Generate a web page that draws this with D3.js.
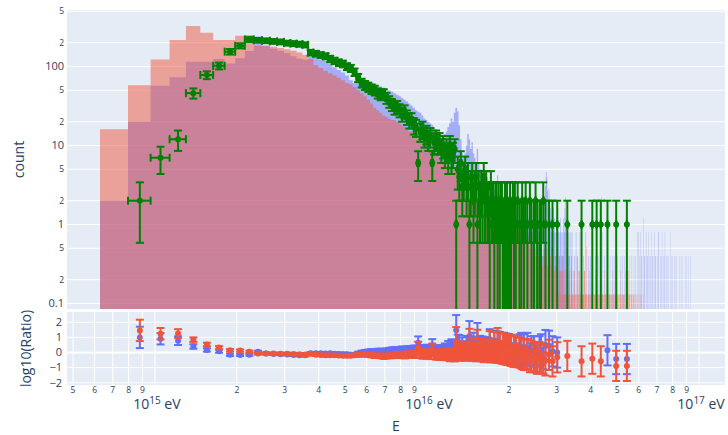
<!DOCTYPE html>
<html lang="en">
<head>
<meta charset="UTF-8">
<title>count / ratio</title>
<style>
  body { margin: 0; background: #fff; }
  svg { display: block; }
  text { font-family: "Open Sans", verdana, arial, sans-serif; fill: #2a3f5f; }
</style>
</head>
<body>
<div id="chart"></div>
<script src="https://cdn.jsdelivr.net/npm/d3@7/dist/d3.min.js"></script>
<script>
// histogram binning (eV)
var binStart = 6.28e14, binWidth = 1.68e14;

// bins 0..119, one value per bin
var redCounts = [
  16, 58, 123, 216, 326, 267, 216, 216, 245, 250,
  183, 182, 178, 172, 165, 158, 150, 140, 124, 104,
  96, 88, 82, 77, 72, 67, 62, 59, 55, 50,
  46, 42, 38, 34, 30, 28, 26, 24, 23, 22,
  21, 21, 20, 19, 18, 17, 16, 15, 15, 14,
  13, 12, 12, 11, 11, 10, 10, 9, 9, 8.5,
  8, 7.5, 7, 7, 6.5, 6, 6, 5.5, 5.5, 5,
  5, 5, 4.8, 4.5, 4.5, 4.3, 4.2, 4, 4, 3.9,
  3.8, 3.7, 3.6, 3.5, 3.5, 3.4, 3.3, 3.2, 3.2, 3.1,
  3, 3, 2.9, 2.8, 2.8, 2.7, 2.6, 2.6, 2.5, 2.5,
  2.4, 2.3, 2.3, 2.2, 4.2, 2.1, 2, 2, 1.9, 1.8,
  1.8, 1.7, 1.6, 1.6, 1.5, 1.5, 1.4, 1.3, 1.3, 1.2
];
var blueCounts = [
  2, 20, 57, 73, 115, 115, 124, 109, 127, 157,
  240, 185, 168, 158, 148, 135, 125, 122, 133, 128,
  123, 118, 110, 98, 90, 84, 77, 67, 62, 62,
  62, 62, 64, 62, 60, 58, 56, 54, 52, 50,
  48, 46, 44, 42, 40, 38, 36, 34, 32, 30,
  28, 27, 26, 24, 22, 21, 20, 19, 18, 17,
  16, 15, 14, 13, 13, 14, 15, 17, 19, 22,
  20, 26, 30, 27, 18, 12, 8, 7, 8, 10,
  14, 12, 9, 11, 8, 7, 6, 9, 6, 5,
  5, 4.5, 4.5, 4, 4.5, 4, 3.5, 3.5, 3, 3.2,
  3, 2.8, 2.7, 2.5, 2.5, 2.3, 2.3, 2.2, 2.1, 2,
  2, 1.9, 1.8, 1.8, 1.7, 1.6, 1.6, 1.5, 1.5, 1.4
];
var dataCounts = [
  0, 2, 7, 12, 46, 78, 102, 154, 183, 220,
  215, 212, 208, 205, 198, 195, 192, 188, 150, 145,
  140, 135, 125, 118, 112, 108, 100, 95, 85, 72,
  62, 58, 55, 52, 50, 46, 44, 45, 40, 36,
  33, 30, 31, 28, 25, 27, 23, 21, 21, 18,
  17, 6, 15, 16, 13, 14, 12, 13, 6, 11,
  12, 11, 11, 9, 10, 8, 9, 7, 10, 7,
  8, 9, 1, 5, 4, 6, 3, 4, 5, 3,
  4, 1, 3, 4, 2, 3, 4, 1, 3, 2,
  3, 2, 4, 2, 3, 2, 2, 1, 3, 2,
  2, 1, 2, 2, 1, 2, 1, 2, 2, 1,
  1, 2, 1, 2, 1, 1, 2, 1, 0, 2
];

// red continues bin by bin from 120 to 369
var redTail = [
  1.2, 1.1, 1.3, 1.0, 1.1, 0.9, 1.0, 0.8, 0.9, 0.8,
  0.9, 0.7, 0.8, 0.7, 0.6, 0.8, 0.7, 0.6, 0.5, 0.7,
  0.6, 0.5, 0.6, 0.5, 0.4, 0.5, 0.6, 0.4, 0.5, 0.4,
  0.5, 0.4, 0.4, 0.5, 0.3, 0.4, 0.5, 0.4, 0.3, 0.4,
  0.5, 0.3, 0.4, 0.7, 0.3, 0.4, 0.3, 0.5, 0.26, 0.4,
  0.3, 0.26, 0.4, 0.3, 0.26, 0.48, 0.26, 0.13, 0.39, 0.26,
  0.26, 0.13, 0.26, 0.26, 0.39, 0.13, 0.13, 0.26, 0.13, 0.13,
  0.26, 0.59, 0.13, 0.13, 0.26, 0.13, 0.13, 0, 0.26, 0.13,
  0.13, 0.13, 0.26, 0.26, 0.13, 0.13, 0, 0.13, 0.39, 0.13,
  0.13, 0.26, 0.26, 0.13, 0.13, 0, 0.26, 0.13, 0.13, 0.13,
  0.13, 0.26, 0.26, 0.13, 0.13, 0.13, 0.52, 0.13, 0, 0.13,
  0.13, 0.26, 0.13, 0.13, 0, 0.13, 0.13, 0.39, 0.13, 0.13,
  0, 0.13, 0.13, 0.13, 0.26, 0.13, 0, 0, 0.13, 0.13,
  0.13, 0, 0.13, 0.13, 0.13, 0.26, 0.13, 0, 0.13, 0.13,
  0.13, 0.13, 0, 0.13, 0.26, 0.13, 0.13, 0.13, 0, 0.13,
  0, 0.13, 0, 0.13, 0.13, 0.13, 0.13, 0, 0.13, 0.13,
  0.13, 0, 0.13, 0.26, 0.13, 0.13, 0, 0.13, 0.13, 0,
  0.13, 0.13, 0.13, 0, 0.13, 0.13, 0, 0.13, 0.13, 0.13,
  0, 0.13, 0.13, 0.26, 0.13, 0, 0.13, 0.13, 0, 0.13,
  0.13, 0.13, 0, 0.13, 0.13, 0.26, 0, 0.13, 0.13, 0.13,
  0.26, 0.26, 0.26, 0.26, 0.13, 0, 0.13, 0.13, 0, 0.13,
  0, 0.13, 0.13, 0, 0, 0.13, 0, 0.13, 0.13, 0,
  0, 0.13, 0, 0, 0.13, 0, 0, 0.13, 0, 0,
  0.13, 0, 0, 0, 0.13, 0, 0, 0, 0.13, 0,
  0, 0, 0.13, 0, 0, 0, 0, 0, 0.13, 0
];
// blue beyond bin 119, [bin, value]
var blueTail = [
  [120,1.2],[121,1.6],[122,1.2],[123,1.6],[124,1.2],[125,0.8],[126,1.6],[127,1.2],[128,2.0],[129,1.2],
  [130,0.8],[131,1.6],[132,1.2],[133,0.8],[134,1.2],[135,2.0],[136,1.2],[137,0.8],[138,1.6],[139,0.8],
  [140,1.2],[141,0.8],[142,1.6],[143,1.2],[144,0.8],[145,1.2],[146,0.8],[147,0.4],[148,1.2],[149,0.8],
  [150,1.2],[151,0.8],[152,1.6],[153,0.8],[154,0.4],[155,0.8],[156,1.2],[157,2.3],[158,3.1],[159,4.6],
  [160,3.9],[161,2.7],[162,1.6],[163,2.8],[164,0.8],[165,1.6],[166,1.2],[167,0.8],[168,1.2],[169,1.6],
  [170,0.8],[171,1.2],[172,0.8],[173,0.4],[174,1.2],[175,1.0],[176,1.6],[177,0.8],[178,0.4],[179,0.8],
  [180,1.2],[181,0.8],[182,0.4],[183,0.8],[184,0.4],[185,1.2],[186,0.8],[187,1.6],[188,2.2],[189,1.2],
  [190,0.8],[192,0.8],[193,0.4],[194,0.8],[195,0.4],[197,0.8],[198,0.4],[199,0.8],[203,0.4],[206,0.8],
  [209,0.4],[213,0.8],[220,0.4],[224,0.8],[229,0.4],[233,0.4],[238,0.8],[243,0.4],[249,0.4],[254,1.2],
  [256,2.2],[258,0.8],[264,0.4],[270,1.4],[276,0.4],[282,0.4],[286,0.4],[291,0.37],[295,0.4],[303,0.4],
  [308,0.4],[312,0.4],[319,0.37],[326,0.4],[333,0.4],[339,0.4],[344,0.4],[349,0.8],[352,0.8],[356,0.4],
  [359,0.8],[361,0.4],[363,0.4],[367,1.2],[370,0.4],[372,0.4],[376,0.8],[379,0.4],[381,0.4],[385,0.8],
  [388,0.4],[390,0.4],[395,0.8],[397,0.4],[399,0.4],[404,0.8],[407,0.4],[409,0.4],[414,0.4],[417,0.8],
  [419,0.8],[425,0.4],[428,0.4],[431,0.8],[436,0.4],[439,0.4],[442,0.8],[448,0.4],[452,0.4],[455,0.4],
  [462,0.8],[466,0.4],[470,0.4],[478,0.4],[484,0.4],[488,0.4],[500,0.4],[507,0.4],[512,0.4],[525,0.4],
  [533,0.4],[540,0.4],[548,0.4]
];
var dataTail = [
  [120,1],[121,2],[122,1],[124,2],[126,1],[128,1],[129,2],[131,1],[133,2],[135,1],
  [138,2],[140,1],[143,1],[145,2],[147,1],[150,1],[152,1],[155,2],[158,1],[163,1],
  [168,1],[175,1],[191,1],[216,1],[237,1],[246,1],[255,1],[270,1],[291,1],[319,1]
];

var xDomain = [4.75e14, 1.246e17];
var yTopDomain = [0.0851, 519];
var yBotDomain = [-2.15, 2.68];
var yTopTicks = [0.1, 0.2, 0.5, 1, 2, 5, 10, 20, 50, 100, 200, 500];
var yBotTicks = [-2, -1, 0, 1, 2];

// build the bins
var nBins = 560;
var bins = [];
for (var k = 0; k < nBins; k++) {
  bins.push({
    k: k,
    lo: binStart + k * binWidth,
    hi: binStart + (k + 1) * binWidth,
    red: k < redCounts.length ? redCounts[k] : (k - 120 < redTail.length ? redTail[k - 120] : 0),
    blue: k < blueCounts.length ? blueCounts[k] : 0,
    data: k < dataCounts.length ? dataCounts[k] : 0
  });
}
blueTail.forEach(function(d) { bins[d[0]].blue = d[1]; });
dataTail.forEach(function(d) { bins[d[0]].data = d[1]; });

var W = 728, H = 435;
var L = 67, R = 725, topT = 10, topB = 309, botT = 312, botB = 385;

var x = d3.scaleLog().domain(xDomain).range([L, R]);
var yTop = d3.scaleLog().domain(yTopDomain).range([topB, topT]);
var yBot = d3.scaleLinear().domain(yBotDomain).range([botB, botT]);

var svg = d3.select("#chart").append("svg").attr("width", W).attr("height", H);
var defs = svg.append("defs");
defs.append("clipPath").attr("id", "clipTop").append("rect")
  .attr("x", L).attr("y", topT).attr("width", R - L).attr("height", topB - topT);
defs.append("clipPath").attr("id", "clipBot").append("rect")
  .attr("x", L).attr("y", botT).attr("width", R - L).attr("height", botB - botT);

svg.append("rect").attr("x", L).attr("y", topT).attr("width", R - L).attr("height", topB - topT).attr("fill", "#E5ECF6");
svg.append("rect").attr("x", L).attr("y", botT).attr("width", R - L).attr("height", botB - botT).attr("fill", "#E5ECF6");

// x ticks (log, every digit)
var xTicks = [];
for (var e = 14; e <= 17; e++) {
  for (var m = 1; m <= 9; m++) {
    var v = m * Math.pow(10, e);
    if (v >= xDomain[0] && v <= xDomain[1]) xTicks.push({ v: v, m: m, e: e });
  }
}

// grids
svg.append("g").selectAll("line").data(yTopTicks).enter().append("line")
  .attr("x1", L).attr("x2", R).attr("y1", function(d) { return yTop(d); }).attr("y2", function(d) { return yTop(d); })
  .attr("stroke", "#fff").attr("stroke-width", 1);
svg.append("g").selectAll("line").data(xTicks).enter().append("line")
  .attr("x1", function(d) { return x(d.v); }).attr("x2", function(d) { return x(d.v); })
  .attr("y1", botT).attr("y2", botB).attr("stroke", "#fff").attr("stroke-width", 1);
svg.append("g").selectAll("line").data(yBotTicks).enter().append("line")
  .attr("x1", L).attr("x2", R).attr("y1", function(d) { return yBot(d); }).attr("y2", function(d) { return yBot(d); })
  .attr("stroke", "#fff").attr("stroke-width", function(d) { return d === 0 ? 2 : 1; });

// histograms
function histPath(key) {
  var p = "";
  bins.forEach(function(b) {
    var v = b[key];
    if (v > 0) {
      p += "M" + x(b.lo) + "," + topB + "H" + x(b.hi) + "V" + yTop(v) + "H" + x(b.lo) + "Z";
    }
  });
  return p;
}
var gTop = svg.append("g").attr("clip-path", "url(#clipTop)");
gTop.append("path").attr("d", histPath("blue")).attr("fill", "#636efa").attr("fill-opacity", 0.5);
gTop.append("path").attr("d", histPath("red")).attr("fill", "#EF553B").attr("fill-opacity", 0.5);

// data points with x and y errors
var pts = bins.filter(function(b) { return b.data > 0; });
var green = "#008000";
var gData = gTop.append("g").attr("stroke", green).attr("stroke-width", 2).attr("fill", "none");
pts.forEach(function(b) {
  var cx = x((b.lo + b.hi) / 2), cy = yTop(b.data);
  var s = Math.sqrt(b.data);
  var yHi = yTop(b.data + s);
  var yLo = b.data - s > 0 ? yTop(b.data - s) : topB + 5;
  gData.append("line").attr("x1", cx).attr("x2", cx).attr("y1", yHi).attr("y2", yLo);
  gData.append("line").attr("x1", cx - 4).attr("x2", cx + 4).attr("y1", yHi).attr("y2", yHi);
  gData.append("line").attr("x1", cx - 4).attr("x2", cx + 4).attr("y1", yLo).attr("y2", yLo);
  var x0 = x(b.lo), x1 = x(b.hi);
  gData.append("line").attr("x1", x0).attr("x2", x1).attr("y1", cy).attr("y2", cy);
  gData.append("line").attr("x1", x0).attr("x2", x0).attr("y1", cy - 4).attr("y2", cy + 4);
  gData.append("line").attr("x1", x1).attr("x2", x1).attr("y1", cy - 4).attr("y2", cy + 4);
});
gTop.append("g").selectAll("circle").data(pts).enter().append("circle")
  .attr("cx", function(b) { return x((b.lo + b.hi) / 2); })
  .attr("cy", function(b) { return yTop(b.data); })
  .attr("r", 3).attr("fill", green);

// ratio panel
var gBot = svg.append("g").attr("clip-path", "url(#clipBot)");
function drawRatio(key, color) {
  var rs = bins.filter(function(b) { return b.data > 0 && b[key] > 0; }).map(function(b) {
    return { e: (b.lo + b.hi) / 2, r: Math.log10(b[key] / b.data), err: 1 / Math.sqrt(b.data) };
  });
  var g = gBot.append("g");
  rs.forEach(function(d) {
    var cx = x(d.e), y1 = yBot(d.r + d.err), y2 = yBot(d.r - d.err);
    g.append("line").attr("x1", cx).attr("x2", cx).attr("y1", y1).attr("y2", y2).attr("stroke", color).attr("stroke-width", 2);
    g.append("line").attr("x1", cx - 4).attr("x2", cx + 4).attr("y1", y1).attr("y2", y1).attr("stroke", color).attr("stroke-width", 2);
    g.append("line").attr("x1", cx - 4).attr("x2", cx + 4).attr("y1", y2).attr("y2", y2).attr("stroke", color).attr("stroke-width", 2);
  });
  g.selectAll("circle").data(rs).enter().append("circle")
    .attr("cx", function(d) { return x(d.e); }).attr("cy", function(d) { return yBot(d.r); })
    .attr("r", 3).attr("fill", color);
}
drawRatio("blue", "#636efa");
drawRatio("red", "#EF553B");

// tick labels
var yl = svg.append("g");
yTopTicks.forEach(function(t) {
  var dec = Math.abs(Math.log10(t) - Math.round(Math.log10(t))) < 1e-9;
  yl.append("text").attr("x", 64).attr("y", yTop(t)).attr("dy", "0.35em")
    .attr("text-anchor", "end").style("font-size", dec ? "11px" : "8.5px")
    .text(dec ? String(t) : String(Math.round(t / Math.pow(10, Math.floor(Math.log10(t))))));
});
yBotTicks.forEach(function(t) {
  yl.append("text").attr("x", 62).attr("y", yBot(t)).attr("dy", "0.35em")
    .attr("text-anchor", "end").style("font-size", "11px").text(t < 0 ? "\u2212" + Math.abs(t) : String(t));
});
xTicks.forEach(function(t) {
  if (t.m === 1) {
    var tx = yl.append("text").attr("x", x(t.v) + 2).attr("y", 409).attr("text-anchor", "middle").style("font-size", "14px");
    tx.append("tspan").text("10");
    tx.append("tspan").attr("dy", "-5").style("font-size", "10px").text(String(t.e));
    tx.append("tspan").attr("dy", "5").text(" eV");
  } else {
    yl.append("text").attr("x", x(t.v)).attr("y", 393).attr("text-anchor", "middle").style("font-size", "8.5px").text(String(t.m));
  }
});

// axis titles
svg.append("text").attr("transform", "translate(24," + ((topT + topB) / 2) + ") rotate(-90)")
  .attr("text-anchor", "middle").style("font-size", "14px").text("count");
svg.append("text").attr("transform", "translate(31," + ((botT + botB) / 2) + ") rotate(-90)")
  .attr("text-anchor", "middle").style("font-size", "14px").text("log10(Ratio)");
svg.append("text").attr("x", (L + R) / 2).attr("y", 431).attr("text-anchor", "middle").style("font-size", "14px").text("E");
</script>
</body>
</html>
